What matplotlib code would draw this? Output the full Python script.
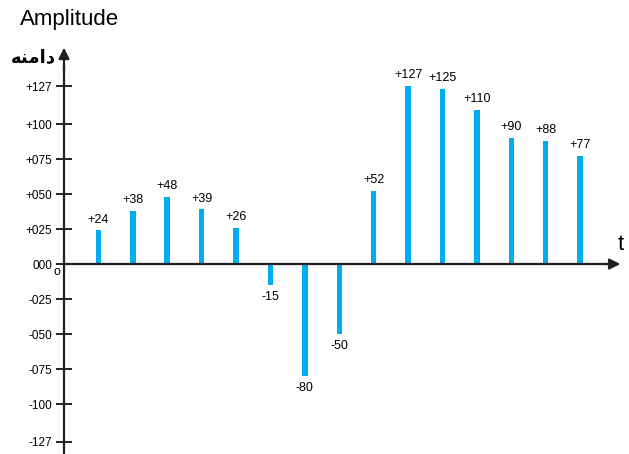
import matplotlib.pyplot as plt

plt.rcParams['font.family'] = ['Liberation Sans', 'DejaVu Sans']

# data
values = [24, 38, 48, 39, 26, -15, -80, -50, 52, 127, 125, 110, 90, 88, 77]
positions = list(range(1, len(values) + 1))
ytick_vals = [127, 100, 75, 50, 25, 0, -25, -50, -75, -100, -127]
ytick_labels = ['+127', '+100', '+075', '+050', '+025', '000',
                '-025', '-050', '-075', '-100', '-127']

bar_color = '#00aeef'
axis_color = '#231f20'

fig = plt.figure(figsize=(6.29, 4.54), dpi=100)
ax = fig.add_axes([0, 0, 1, 1])
ax.set_xlim(-1.86, 16.42)
ax.set_ylim(-135.7, 188.6)

# bars
ax.bar(positions, values, width=0.16, color=bar_color, zorder=2)
for x, v in zip(positions, values):
    lab = f'+{v}' if v > 0 else str(v)
    if v > 0:
        ax.text(x, v + 3.5, lab, ha='center', va='bottom', fontsize=9, color='black')
    else:
        ax.text(x, v - 4, lab, ha='center', va='top', fontsize=9, color='black')

# axes through origin
for s in ['top', 'right']:
    ax.spines[s].set_visible(False)
ax.spines['left'].set_position(('data', 0))
ax.spines['bottom'].set_position(('data', 0))
ax.spines['left'].set_bounds(-137, 140)
ax.spines['bottom'].set_bounds(0, 15.8)
for s in ['left', 'bottom']:
    ax.spines[s].set_color(axis_color)
    ax.spines[s].set_linewidth(1.6)
    ax.spines[s].set_zorder(3)

ax.set_xticks([])
ax.set_yticks(ytick_vals)
ax.set_yticklabels(ytick_labels)
ax.tick_params(axis='y', direction='inout', length=11, width=1.4,
               color=axis_color, labelsize=8.5, pad=3)

# arrow heads
ax.annotate('', xy=(0, 154.5), xytext=(0, 138),
            arrowprops=dict(arrowstyle='-|>', color=axis_color, lw=1.6,
                            mutation_scale=16, shrinkA=0, shrinkB=0))
ax.annotate('', xy=(16.17, 0), xytext=(15.7, 0),
            arrowprops=dict(arrowstyle='-|>', color=axis_color, lw=1.6,
                            mutation_scale=16, shrinkA=0, shrinkB=0))

# labels
fig.text(20 / 629, 1 - 20 / 454, 'Amplitude', ha='left', va='center', fontsize=16)
fig.text(56 / 629, 1 - 57 / 454, '\uFEEA\uFEE8\uFEE3\uFE8D\uFEA9', ha='right',
         va='center', fontsize=13, fontweight='bold', family='DejaVu Sans')
fig.text(621 / 629, 1 - 245 / 454, 't', ha='center', va='center', fontsize=16)
ax.text(-0.2, -6, 'o', ha='center', va='center', fontsize=9)

fig.savefig('out.png', dpi=100)
